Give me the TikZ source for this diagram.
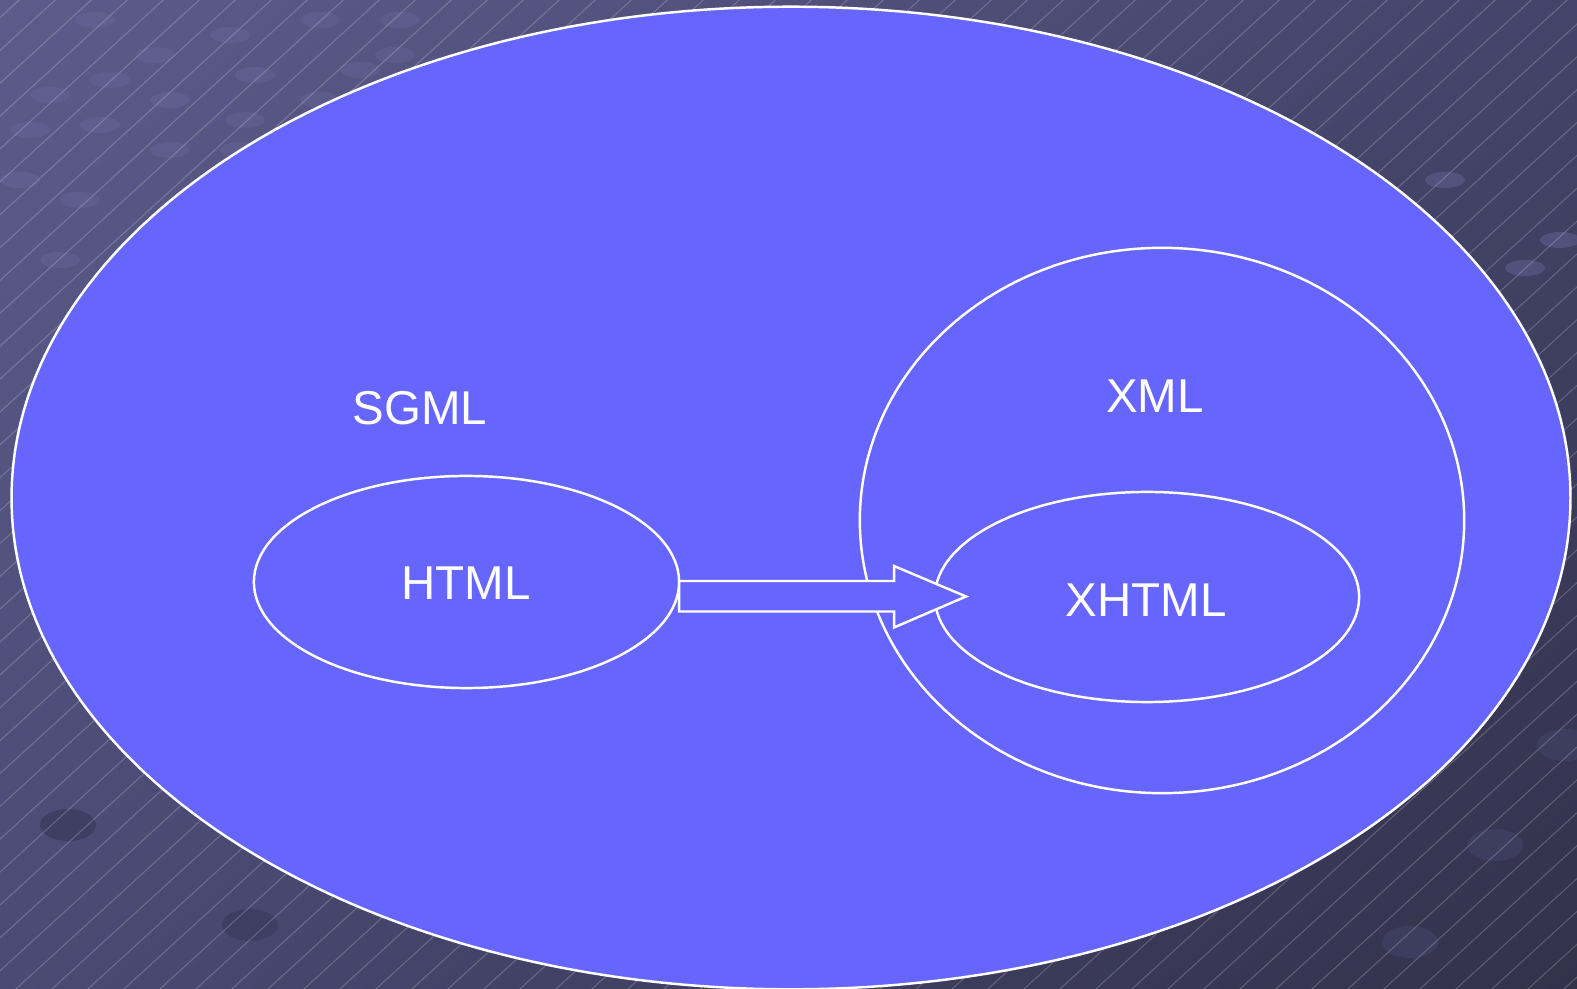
\documentclass[tikz,border=0pt]{standalone}
\usepackage{fontspec}
\setmainfont{Liberation Sans}
\usetikzlibrary{shapes.geometric,shadings}
\definecolor{fillblue}{HTML}{6666FF}
\definecolor{bgA}{HTML}{5C5C8C}
\definecolor{bgB}{HTML}{32324B}
\definecolor{bgC}{HTML}{4A4A74}
\definecolor{bgD}{HTML}{44446A}
\definecolor{dotc}{HTML}{66669A}
\definecolor{dotdark}{HTML}{3E3E62}
\tikzset{
  blob/.style={ellipse, draw=white, line width=0.7pt, fill=fillblue, inner sep=0pt, outer sep=0pt},
  lbl/.style={text=white, font=\fontsize{13.5pt}{15pt}\selectfont, inner sep=0pt},
  bgdot/.style={fill=dotc, opacity=0.45},
  hatch/.style={white, opacity=0.2, line width=0.3pt},
  block/.style={draw=white, line width=0.7pt, fill=fillblue, line join=miter}
}
\begin{document}
\begin{tikzpicture}[x=0.01cm, y=-0.01cm]
\useasboundingbox (0,0) rectangle (1577,989);
\begin{scope}
\clip (0,0) rectangle (1577,989);
\shade[upper left=bgA, upper right=bgD, lower left=bgC, lower right=bgB] (0,0) rectangle (1577,989);
% faint network dots
\foreach \px/\py in {95/20,230/35,320/20,155/55,395/55,255/75,50/95,110/80,320/100,480/90,170/100,30/130,100/125,245/120,360/70,400/20,20/180,170/150,80/200,240/150,60/260,1445/180,1525/268,1560/240}
  \fill[bgdot] (\px,\py) ellipse (20 and 8);
\foreach \px/\py in {68/825,250/925,1495/845,1410/942,1565/745}
  \fill[dotdark, opacity=0.9] (\px,\py) ellipse (28 and 16);
\foreach \i in {-1100,-1064,...,1577}
  \draw[hatch] (\i,989) -- ++(1150,-1050);
\node[blob, minimum width=15.58cm, minimum height=9.82cm] (sgml) at (791,498) {};
\end{scope}
\node[blob, minimum width=6.04cm, minimum height=5.45cm] (xml) at (1162,520.5) {};
\node[blob, minimum width=4.24cm, minimum height=2.10cm] (xhtml) at (1147,597) {};
\node[blob, minimum width=4.25cm, minimum height=2.12cm] (html) at (466.5,582) {};
\draw[block] (html.east |- 0,581) -- (894,581) -- (894,566) -- (966,596.5) -- (894,627.5) -- (894,611.5) -- (html.east |- 0,611.5) -- cycle;
\node[lbl] (tsgml) at (420,408) {SGML};
\node[lbl] (txml) at (1155,396) {XML};
\node[lbl] (thtml) at (466,583) {HTML};
\node[lbl] (txhtml) at (1146,600) {XHTML};
\end{tikzpicture}
\end{document}
